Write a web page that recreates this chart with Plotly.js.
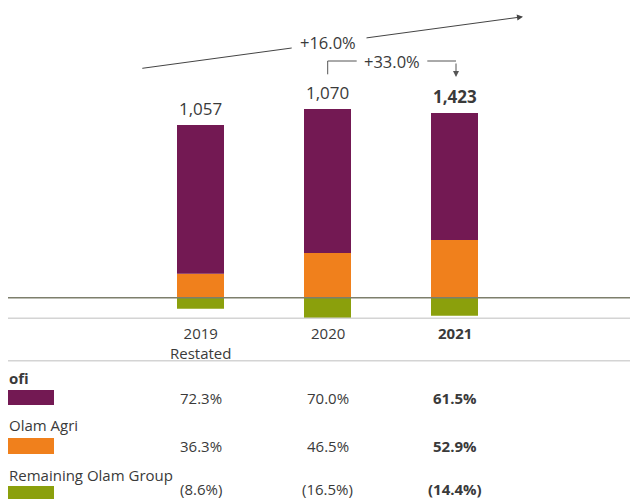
<!DOCTYPE html>
<html>
<head>
<meta charset="utf-8">
<script src="https://cdn.plot.ly/plotly-3.0.1.min.js"></script>
<style>html,body{margin:0;padding:0;background:#fff;}#chart{width:630px;height:499px;}</style>
</head>
<body>
<div id="chart"></div>
<script>
// ---- data ----
const categories = ['2019 Restated', '2020', '2021'];
const tickLabels = ['2019<br>Restated', '2020', '<b>2021</b>'];
const totalLabels = ['1,057', '1,070', '<b>1,423</b>'];
// bar segment heights as drawn in the picture (chart is illustrative, not to scale)
const ofiBar = [148.7, 144.0, 127.0];
const agriBar = [24.0, 44.7, 57.7];
const remainingBar = [-11.0, -20.6, -18.0];
const seriesNames = ['ofi', 'Olam Agri', 'Remaining Olam Group'];
const ofiShare = ['72.3%', '70.0%', '<b>61.5%</b>'];
const agriShare = ['36.3%', '46.5%', '<b>52.9%</b>'];
const remainingShare = ['(8.6%)', '(16.5%)', '<b>(14.4%)</b>'];
const growthLabels = ['+16.0%', '+33.0%'];

// ---- style ----
const W = 630, H = 499;
const C_OFI = '#731953', C_AGRI = '#f0801c', C_REM = '#8ba00c';
const TXT = '#3a3a3a';
const FONT = 'Open Sans, Lato, sans-serif';
const px = x => x / W;
const py = y => 1 - y / H;

const traces = [
  {type: 'bar', name: seriesNames[1], x: categories, y: agriBar, marker: {color: C_AGRI}, hoverinfo: 'skip'},
  {type: 'bar', name: seriesNames[0], x: categories, y: ofiBar, marker: {color: C_OFI}, hoverinfo: 'skip'},
  {type: 'bar', name: seriesNames[2], x: categories, y: remainingBar, marker: {color: C_REM}, hoverinfo: 'skip'}
];

const annotations = [];
categories.forEach((c, i) => {
  annotations.push({x: i, y: ofiBar[i] + agriBar[i], xref: 'x', yref: 'y', text: totalLabels[i],
    showarrow: false, xanchor: 'center', yanchor: 'middle', yshift: 17, font: {family: FONT, size: 17, color: TXT}});
  annotations.push({x: i, y: 0, xref: 'x', yref: 'y', text: tickLabels[i], showarrow: false,
    xanchor: 'center', yanchor: 'top', yshift: -23, font: {family: FONT, size: 15, color: TXT}});
});
const tableRows = [
  {name: '<b>' + seriesNames[0] + '</b>', nameY: 378, valY: 398, vals: ofiShare},
  {name: seriesNames[1], nameY: 425, valY: 446, vals: agriShare},
  {name: seriesNames[2], nameY: 475, valY: 489, vals: remainingShare}
];
tableRows.forEach(r => {
  annotations.push({x: px(7), y: py(r.nameY), xref: 'paper', yref: 'paper', text: r.name, showarrow: false,
    xanchor: 'left', yanchor: 'middle', font: {family: FONT, size: 15, color: TXT}});
  categories.forEach((c, i) => {
    annotations.push({x: i, y: py(r.valY), xref: 'x', yref: 'paper', text: r.vals[i], showarrow: false,
      xanchor: 'center', yanchor: 'middle', font: {family: FONT, size: 15, color: TXT}});
  });
});
// growth labels
annotations.push({x: px(328), y: py(43), xref: 'paper', yref: 'paper', text: growthLabels[0], showarrow: false,
  xanchor: 'center', yanchor: 'middle', font: {family: FONT, size: 16.5, color: TXT}});
annotations.push({x: px(392), y: py(61), xref: 'paper', yref: 'paper', text: growthLabels[1], showarrow: false,
  xanchor: 'center', yanchor: 'middle', font: {family: FONT, size: 16.5, color: TXT}});
// arrow heads
annotations.push({x: px(523), y: py(16.7), xref: 'paper', yref: 'paper', text: '', showarrow: true,
  ax: 365 - 523, ay: 38.1 - 16.7, axref: 'pixel', ayref: 'pixel', arrowhead: 2, arrowsize: 1.2, arrowwidth: 1, arrowcolor: '#444'});
annotations.push({x: px(456), y: py(77), xref: 'paper', yref: 'paper', text: '', showarrow: true,
  ax: 0, ay: -15, axref: 'pixel', ayref: 'pixel', arrowhead: 2, arrowsize: 1.2, arrowwidth: 1, arrowcolor: '#555'});

const shapes = [
  {type: 'line', xref: 'paper', yref: 'paper', x0: px(142.3), y0: py(68.3), x1: px(291.7), y1: py(48), line: {color: '#444', width: 1}},
  {type: 'path', xref: 'paper', yref: 'paper', path: `M ${px(327.7)} ${py(74.3)} L ${px(327.7)} ${py(61)} L ${px(356.7)} ${py(61)}`, line: {color: '#555', width: 1}},
  {type: 'line', xref: 'paper', yref: 'paper', x0: px(427.3), y0: py(61), x1: px(456), y1: py(61), line: {color: '#555', width: 1}},
  {type: 'line', xref: 'paper', yref: 'y', x0: px(8), x1: 1, y0: 0, y1: 0, line: {color: '#7d7f6c', width: 1.6}, layer: 'above'},
  {type: 'line', xref: 'paper', yref: 'paper', x0: px(8), x1: 1, y0: py(318.3), y1: py(318.3), line: {color: '#d4d4d4', width: 1.5}},
  {type: 'line', xref: 'paper', yref: 'paper', x0: px(8), x1: 1, y0: py(360.7), y1: py(360.7), line: {color: '#d4d4d4', width: 1.5}},
  {type: 'rect', xref: 'paper', yref: 'paper', x0: px(8), x1: px(54), y0: py(390), y1: py(405), fillcolor: C_OFI, line: {width: 0}},
  {type: 'rect', xref: 'paper', yref: 'paper', x0: px(8), x1: px(54), y0: py(438), y1: py(454), fillcolor: C_AGRI, line: {width: 0}},
  {type: 'rect', xref: 'paper', yref: 'paper', x0: px(8), x1: px(54), y0: py(486), y1: py(500), fillcolor: C_REM, line: {width: 0}}
];

const layout = {
  width: W, height: H,
  margin: {l: 0, r: 0, t: 0, b: 0, pad: 0},
  paper_bgcolor: '#fff', plot_bgcolor: '#fff',
  barmode: 'relative', bargap: 1 - 47 / 127,
  showlegend: false,
  xaxis: {type: 'category', categoryorder: 'array', categoryarray: categories, range: [-200.5 / 127, (630 - 200.5) / 127], visible: false, fixedrange: true},
  yaxis: {range: [297.7 - 499, 297.7], visible: false, fixedrange: true},
  annotations: annotations,
  shapes: shapes,
  font: {family: FONT, color: TXT}
};

Plotly.newPlot('chart', traces, layout, {displayModeBar: false, staticPlot: true});
</script>
</body>
</html>
